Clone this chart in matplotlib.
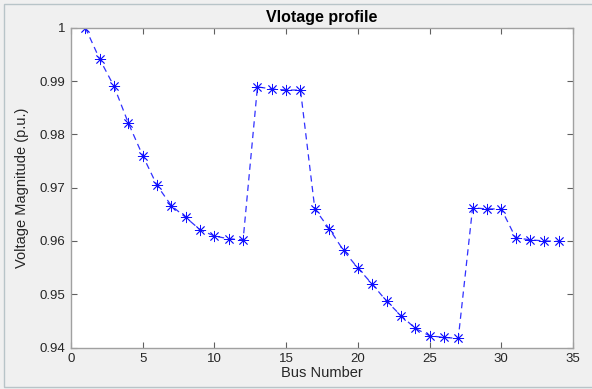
import matplotlib
matplotlib.use("Agg")
import matplotlib.pyplot as plt
from matplotlib.patches import Rectangle

bus = list(range(1, 35))
voltage = [1.0000, 0.9941, 0.9890, 0.9821, 0.9760, 0.9704, 0.9666, 0.9644,
           0.9621, 0.9609, 0.9604, 0.9602, 0.9889, 0.9885, 0.9883, 0.9883,
           0.9660, 0.9623, 0.9582, 0.9549, 0.9519, 0.9487, 0.9460, 0.9436,
           0.9422, 0.9419, 0.9417, 0.9662, 0.9660, 0.9660, 0.9606, 0.9602,
           0.9600, 0.9599]
xticks = [0, 5, 10, 15, 20, 25, 30, 35]
yticks = [0.94, 0.95, 0.96, 0.97, 0.98, 0.99, 1.0]
ytick_labels = ["0.94", "0.95", "0.96", "0.97", "0.98", "0.99", "1"]

plt.rcParams['font.family'] = ['Liberation Sans', 'DejaVu Sans']

fig = plt.figure(figsize=(5.92, 3.89), dpi=100)
fig.patch.set_facecolor('#f0f0f0')
fig.patches.append(Rectangle((4/592, 2/389), 1.0, 1 - 6/389, transform=fig.transFigure,
                             fill=False, edgecolor='#b8c4c8', linewidth=1.0))
ax = fig.add_axes([71/592, 41.5/389, 502/592, 319.8/389])
ax.set_facecolor('white')
ax.plot(bus, voltage, linestyle='--', color='#3030ff', linewidth=0.9, dashes=(5, 3.5))
ax.plot(bus, voltage, linestyle='none', marker=(8, 2, 0), markersize=8,
        markeredgewidth=0.6, color='#1010ff', markeredgecolor='#1010ff')
ax.set_xlim(0, 35)
ax.set_ylim(0.94, 1.0)
ax.set_xticks(xticks)
ax.set_yticks(yticks)
ax.set_yticklabels(ytick_labels)
for s in ax.spines.values():
    s.set_color('#a0a0a0')
    s.set_linewidth(1.0)
ax.tick_params(direction='in', top=True, right=True, length=4, width=0.8,
               color='#606060', labelcolor='#262626', labelsize=9.5, pad=4)
ax.set_title('Vlotage profile', fontsize=11.5, fontweight='bold', pad=4)
ax.set_xlabel('Bus Number', fontsize=10.5, color='#262626', labelpad=1)
ax.set_ylabel('Voltage Magnitude (p.u.)', fontsize=10.5, color='#262626', labelpad=8)
fig.savefig('out.png', dpi=100, facecolor=fig.get_facecolor())
